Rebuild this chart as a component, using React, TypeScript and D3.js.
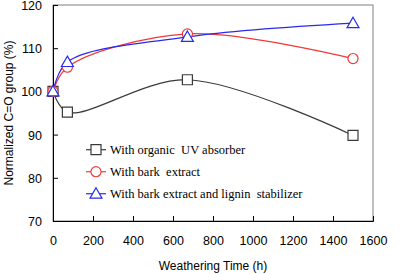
import React, { useEffect, useRef } from 'react';
import * as d3 from 'd3';

const times = [0, 72, 672, 1500];
const uvAbsorber = [100, 95.2, 102.7, 89.8];
const barkExtract = [100, 105.6, 113.3, 107.6];
const barkLignin = [100, 106.8, 112.6, 115.8];
const seriesNames = [
  'With organic  UV absorber',
  'With bark  extract',
  'With bark extract and lignin  stabilizer',
];
const xTicks = [0, 200, 400, 600, 800, 1000, 1200, 1400, 1600];
const yTicks = [70, 80, 90, 100, 110, 120];

const App: React.FC = () => {
  const svgRef = useRef<SVGSVGElement>(null);

  useEffect(() => {
    document.body.style.margin = '0';
    if (!svgRef.current) return;

    const width = 401;
    const height = 274;
    const margin = { top: 5, right: 28, bottom: 53, left: 53 };
    const w = width - margin.left - margin.right;
    const h = height - margin.top - margin.bottom;

    const svg = d3.select(svgRef.current);
    svg.selectAll('*').remove();
    svg.attr('width', width).attr('height', height);

    const g = svg.append('g').attr('transform', `translate(${margin.left},${margin.top})`);

    const x = d3.scaleLinear().domain([0, 1600]).range([0, w]);
    const y = d3.scaleLinear().domain([70, 120]).range([h, 0]);

    // frame
    g.append('rect')
      .attr('width', w).attr('height', h)
      .attr('fill', 'none').attr('stroke', '#808080').attr('stroke-width', 1);

    // axes with inward ticks
    const xAxis = g.append('g')
      .attr('transform', `translate(0,${h})`)
      .call(d3.axisBottom(x).tickValues(xTicks).tickSize(-5).tickPadding(15).tickFormat(d3.format('d')));
    const yAxis = g.append('g')
      .call(d3.axisLeft(y).tickValues(yTicks).tickSize(-5).tickPadding(11).tickFormat(d3.format('d')));

    [xAxis, yAxis].forEach(a => {
      a.select('.domain').attr('stroke', '#000');
      a.selectAll('line').attr('stroke', '#000');
      a.selectAll('text')
        .attr('fill', '#000')
        .style('font-family', '"Liberation Sans", Arial, sans-serif')
        .style('font-size', '12.5px');
    });
    yAxis.selectAll('text').attr('dy', '0.36em');

    const series = [
      { values: uvAbsorber, color: '#3a3a3a', marker: 'square' },
      { values: barkExtract, color: '#f03a3a', marker: 'circle' },
      { values: barkLignin, color: '#2a2aee', marker: 'triangle' },
    ];

    const line = d3.line<[number, number]>()
      .x(d => x(d[0]))
      .y(d => y(d[1]))
      .curve(d3.curveCatmullRom.alpha(0.5));

    const sym = (m: string) =>
      m === 'square' ? d3.symbol(d3.symbolSquare, 100)
        : m === 'circle' ? d3.symbol(d3.symbolCircle, 80)
          : d3.symbol(d3.symbolTriangle, 62);

    series.forEach(s => {
      const pts: [number, number][] = times.map((t, i) => [t, s.values[i]]);
      g.append('path')
        .attr('d', line(pts))
        .attr('fill', 'none')
        .attr('stroke', s.color)
        .attr('stroke-width', 1.2);
    });

    series.forEach(s => {
      g.selectAll(null)
        .data(times.map((t, i) => [t, s.values[i]] as [number, number]))
        .enter().append('path')
        .attr('d', sym(s.marker)() as string)
        .attr('transform', d => `translate(${x(d[0])},${y(d[1]) + (s.marker === 'triangle' ? 1 : 0)})`)
        .attr('fill', '#fff')
        .attr('stroke', s.color)
        .attr('stroke-width', 1.2);
    });

    // legend
    const legend = g.append('g').attr('transform', `translate(${x(165)},${y(86.5)})`);
    series.forEach((s, i) => {
      const row = legend.append('g').attr('transform', `translate(0,${i * 22})`);
      row.append('line').attr('x1', 0).attr('x2', 20).attr('stroke', s.color).attr('stroke-width', 1.2);
      row.append('path')
        .attr('d', sym(s.marker)() as string)
        .attr('transform', `translate(10,${s.marker === 'triangle' ? 1 : 0})`)
        .attr('fill', '#fff').attr('stroke', s.color).attr('stroke-width', 1.2);
      row.append('text')
        .attr('x', 24).attr('y', 4)
        .style('font-family', '"Liberation Serif", "Times New Roman", serif')
        .style('font-size', '12.5px')
        .style('white-space', 'pre')
        .attr('fill', '#000')
        .text(seriesNames[i]);
    });

    // axis titles
    svg.append('text')
      .attr('x', margin.left + w / 2)
      .attr('y', 270)
      .attr('text-anchor', 'middle')
      .style('font-family', '"Liberation Sans", Arial, sans-serif')
      .style('font-size', '12px')
      .text('Weathering Time (h)');

    svg.append('text')
      .attr('transform', `translate(13,${margin.top + h / 2}) rotate(-90)`)
      .attr('text-anchor', 'middle')
      .style('font-family', '"Liberation Sans", Arial, sans-serif')
      .style('font-size', '12px')
      .text('Normalized C=O group (%)');
  }, []);

  return <svg ref={svgRef} style={{ display: 'block' }}></svg>;
};

export default App;
